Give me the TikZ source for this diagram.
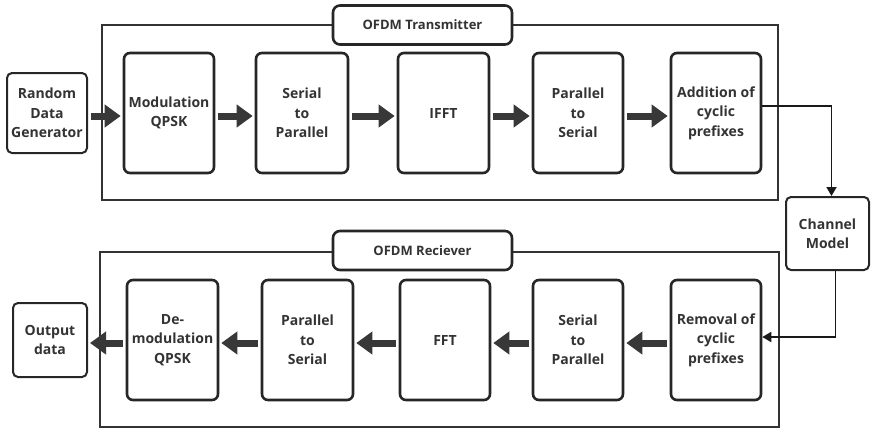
\documentclass[tikz,border=0pt]{standalone}
\usepackage{fontspec}
\setmainfont{Open Sans}
\usetikzlibrary{arrows.meta}
\tikzset{
  blk/.style={draw=black!85, line width=2.6pt, rounded corners=6pt, align=center,
    minimum width=90pt, minimum height=120pt, inner sep=1pt,
    font=\fontsize{14}{19.5}\selectfont\bfseries, text=black!80},
  iobox/.style={blk, line width=2pt, rounded corners=5pt},
  frame/.style={draw=black!80, line width=2pt},
  lbl/.style={draw=black!85, fill=white, line width=2.6pt, rounded corners=7pt,
    minimum width=179pt, minimum height=39pt, font=\fontsize{13}{16}\selectfont\bfseries, text=black!80},
  fat/.style={draw=black!78, line width=7pt, -{Triangle[length=16pt,width=22pt]},
    shorten <=3pt, shorten >=2pt},
  conn/.style={draw=black!90, line width=1.8pt, -{Triangle[length=9pt,width=10pt]}}
}
\begin{document}
\begin{tikzpicture}[x=1pt,y=-1pt]
\useasboundingbox (0,0) rectangle (871,429);
% frames
\draw[frame] (102,25) rectangle (778,200);
\draw[frame] (100,252) rectangle (779,427);
\node[lbl] (tx) at (422.5,25) {OFDM Transmitter};
\node[lbl] (rx) at (422.5,250.5) {OFDM Reciever};
% top row
\node[iobox, minimum width=80pt, minimum height=80pt] (rdg) at (47,113) {Random\\Data\\Generator};
\node[blk] (mod) at (169,113) {Modulation\\QPSK};
\node[blk, minimum width=92pt] (s2p) at (302,113) {Serial\\to\\Parallel};
\node[blk, minimum width=91pt] (ifft) at (443.5,113) {IFFT};
\node[blk] (p2s) at (578,113) {Parallel\\to\\Serial};
\node[blk] (add) at (716,113) {Addition of\\cyclic\\prefixes};
% channel
\node[iobox, minimum width=83pt, minimum height=73pt] (ch) at (827.5,233.5) {Channel\\Model};
% bottom row
\node[iobox, minimum width=74pt, minimum height=74pt] (out) at (50,340) {Output\\data};
\node[blk, minimum width=91pt] (dem) at (172.5,340) {De-\\modulation\\QPSK};
\node[blk, minimum width=91pt] (p2s2) at (307.5,340) {Parallel\\to\\Serial};
\node[blk] (fft) at (445,340) {FFT};
\node[blk] (s2p2) at (578,340) {Serial\\to\\Parallel};
\node[blk] (rem) at (716,340) {Removal of\\cyclic\\prefixes};
% fat arrows
\begin{scope}[transform canvas={yshift=-3pt}]
\draw[fat] (rdg.east) -- (mod.west);
\draw[fat] (mod.east) -- (s2p.west);
\draw[fat] (s2p.east) -- (ifft.west);
\draw[fat] (ifft.east) -- (p2s.west);
\draw[fat] (p2s.east) -- (add.west);
\draw[fat] (rem.west) -- (s2p2.east);
\draw[fat] (s2p2.west) -- (fft.east);
\draw[fat] (fft.west) -- (p2s2.east);
\draw[fat] (p2s2.west) -- (dem.east);
\draw[fat] (dem.west) -- (out.east);
\end{scope}
% connectors
\draw[conn] ([yshift=7pt]add.east) -| ([xshift=4pt]ch.north);
\draw[conn] ([xshift=8pt]ch.south) |- ([yshift=3pt]rem.east);
\end{tikzpicture}
\end{document}
